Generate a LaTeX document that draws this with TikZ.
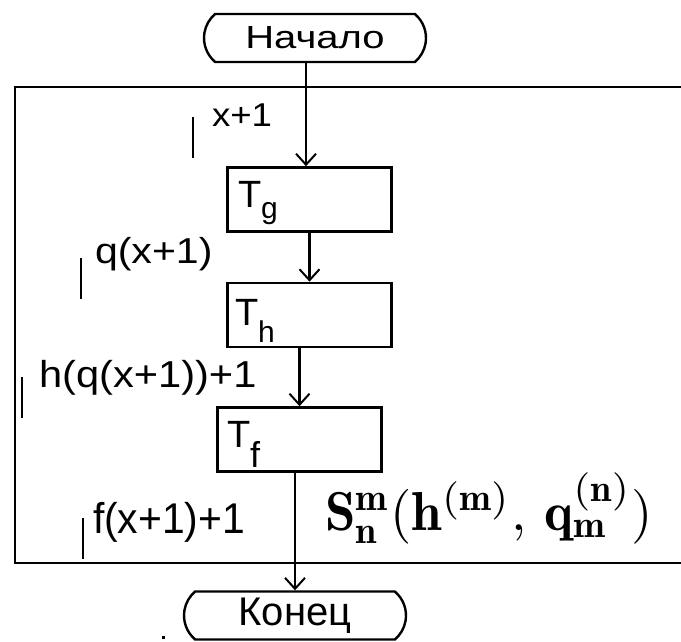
\documentclass[tikz,border=0pt]{standalone}
\usepackage{fontspec}
\usetikzlibrary{arrows.meta,shapes.misc}
\newfontfamily\lblfont{Liberation Sans}
\newcommand{\mytxt}[3]{\scalebox{#2}[1]{\fontsize{#1}{#1}\selectfont\lblfont #3}}
\begin{document}
\begin{tikzpicture}[x=1pt,y=-1pt,
  box/.style={draw,line width=2.6pt,minimum width=164pt,minimum height=64pt,inner sep=0pt},
  term/.style={draw,line width=2.4pt,rounded rectangle,rounded rectangle arc length=100,minimum width=222pt,minimum height=48pt,inner sep=0pt},
  conn/.style={line width=2.4pt,-{Straight Barb[length=11pt,width=20pt,line width=2pt]}},
  lbl/.style={anchor=base west,inner sep=0pt,outer sep=0pt},
  bar/.style={line width=2.4pt},
  frame/.style={line width=2.8pt}]
\useasboundingbox (0,0) rectangle (681,642);
% frame
\draw[frame] (700,87) -- (15,87) -- (15,563) -- (700,563);
% terminals
\node[term] (start) at (315,38) {\mytxt{32}{1.25}{Начало}};
\node[term] (fin) at (295,615.5) {\mytxt{40}{1}{Конец}};
% boxes
\node[box] (tg) at (309.5,199.5) {};
\node[box] (th) at (309.5,315) {};
\node[box] (tf) at (299.5,439.5) {};
% box labels
\node[lbl] (tgl) at (238,207) {\mytxt{38}{1}{T}\raisebox{-11pt}{\mytxt{30}{1}{g}}};
\node[lbl] (thl) at (235,325) {\mytxt{38}{1}{T}\raisebox{-17pt}{\mytxt{30}{1}{h}}};
\node[lbl] (tfl) at (227,447) {\mytxt{38}{1}{T}\raisebox{-20pt}{\mytxt{36}{1}{f}}};
% connectors
\coordinate (tgin) at ([xshift=-3.5pt]tg.north);
\draw[conn] (start.south -| tgin) -- (tgin);
\draw[conn] (tg.south) -- (th.north);
\draw[conn] (th.south -| tf.north) -- (tf.north);
\draw[conn] (tf.south -| fin.north) -- (fin.north);
% side labels
\node[lbl] (l1) at (212,127) {\mytxt{33}{1.11}{x+1}};
\node[lbl] (l2) at (95,263) {\mytxt{36}{1.14}{q(x+1)}};
\node[lbl] (l3) at (39,387) {\mytxt{37.5}{1.11}{h(q(x+1))+1}};
\node[lbl] (l4) at (93,533) {\mytxt{43}{0.95}{f(x+1)+1}};
\draw[bar] (193,117) -- (193,158);
\draw[bar] (81,258) -- (81,299);
\draw[bar] (22,377) -- (22,418);
\draw[bar] (83,518) -- (83,559);
% formula
\node[lbl] (sform) at (325,530) {\resizebox{328pt}{!}{$\mathbf{S}^{\mathbf{m}}_{\mathbf{n}}(\mathbf{h}^{(\mathbf{m})},\,\mathbf{q}^{(\mathbf{n})}_{\mathbf{m}})$}};
% dot
\fill (162,636) rectangle (165,639);
\end{tikzpicture}
\end{document}
